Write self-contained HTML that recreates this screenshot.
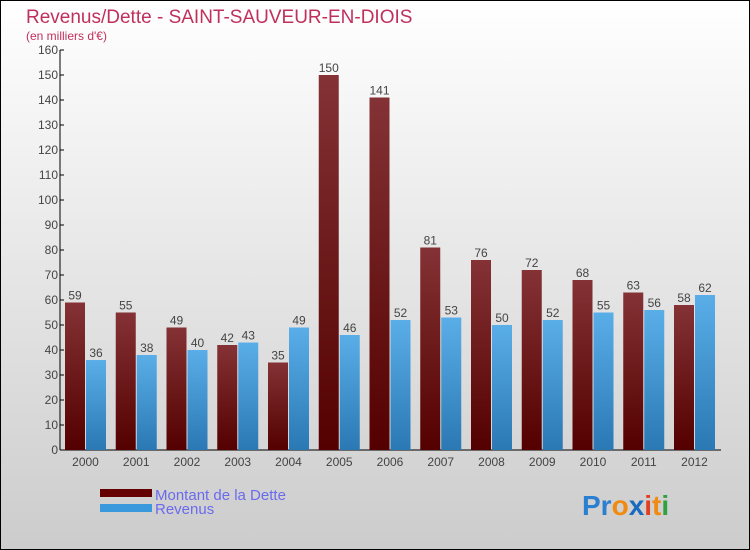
<!DOCTYPE html>
<html><head><meta charset="utf-8"><style>
body{margin:0}
svg{display:block;font-family:"Liberation Sans",sans-serif}
</style></head><body>
<svg id="c" width="750" height="550">
<defs>
<linearGradient id="bg" x1="0" y1="0" x2="0" y2="1"><stop offset="0" stop-color="#ffffff"/><stop offset="1" stop-color="#cccccc"/></linearGradient>
<linearGradient id="gd" x1="0" y1="0" x2="0" y2="1"><stop offset="0" stop-color="#843235"/><stop offset="1" stop-color="#540000"/></linearGradient>
<linearGradient id="gr" x1="0" y1="0" x2="0" y2="1"><stop offset="0" stop-color="#5aaee8"/><stop offset="1" stop-color="#2a78b4"/></linearGradient>
</defs>
<rect x="0.5" y="0.5" width="749" height="549" fill="url(#bg)" stroke="#000"/>
<text x="26" y="23" font-size="19" fill="#c0305e">Revenus/Dette - SAINT-SAUVEUR-EN-DIOIS</text>
<text x="26" y="40" font-size="12" fill="#c0305e">(en milliers d'€)</text>
<g id="axes"></g><g id="bars"></g>
<rect x="100" y="489" width="52" height="8" fill="#640000"/>
<rect x="100" y="504" width="52" height="8" fill="#3a99dc"/>
<text x="155" y="500" font-size="15" fill="#6a6aee">Montant de la Dette</text>
<text x="155" y="514" font-size="15" fill="#6a6aee">Revenus</text>
<text x="582" y="515" font-size="28" font-weight="bold"><tspan fill="#2a7fd0">Pr</tspan><tspan fill="#f08a10">o</tspan><tspan fill="#1a6ac0">x</tspan><tspan fill="#e04020">i</tspan><tspan fill="#f08a10">t</tspan><tspan fill="#30a040">i</tspan></text>
</svg>
<script>
const years=["2000","2001","2002","2003","2004","2005","2006","2007","2008","2009","2010","2011","2012"];
const dette=[59,55,49,42,35,150,141,81,76,72,68,63,58];
const revenus=[36,38,40,43,49,46,52,53,50,52,55,56,62];
const yTicks=[0,10,20,30,40,50,60,70,80,90,100,110,120,130,140,150,160];
const NS="http://www.w3.org/2000/svg";
const x0=65,step=50.75,bw=20,y0=450,ppu=2.5;
const yS=v=>y0-v*ppu;
function mk(t,a,p){const e=document.createElementNS(NS,t);for(const k in a)e.setAttribute(k,a[k]);p.appendChild(e);return e;}
const ax=document.getElementById('axes'),bg=document.getElementById('bars');
let l=mk('line',{x1:60,y1:50,x2:60,y2:450,stroke:'#000'},ax);


l=mk('line',{x1:60,y1:450,x2:721,y2:450,stroke:'#000'},ax);


yTicks.forEach(v=>{
 const t=mk('line',{x1:60,x2:64,y1:yS(v),y2:yS(v),stroke:'#000'},ax);
 
 
 const tx=mk('text',{x:58,y:yS(v)+4,'font-size':12,fill:'#444','text-anchor':'end'},ax);tx.textContent=v;
 
 
});
years.forEach((y,i)=>{
 const gx=x0+i*step;
 const tx=mk('text',{x:gx+bw+0.5,y:466,'font-size':12,fill:'#444','text-anchor':'middle'},ax);tx.textContent=y;
 
 
 const b1=mk('rect',{x:gx,y:yS(dette[i]),width:bw,height:dette[i]*ppu,fill:'url(#gd)'},bg);
 
 
 const b2=mk('rect',{x:gx+bw+1,y:yS(revenus[i]),width:bw,height:revenus[i]*ppu,fill:'url(#gr)'},bg);
 
 
 const v1=mk('text',{x:gx+bw/2,y:yS(dette[i])-3,'font-size':12,fill:'#444','text-anchor':'middle'},bg);v1.textContent=dette[i];
 
 
 const v2=mk('text',{x:gx+bw+1+bw/2,y:yS(revenus[i])-3,'font-size':12,fill:'#444','text-anchor':'middle'},bg);v2.textContent=revenus[i];
 
 
});
</script>
</body></html>
